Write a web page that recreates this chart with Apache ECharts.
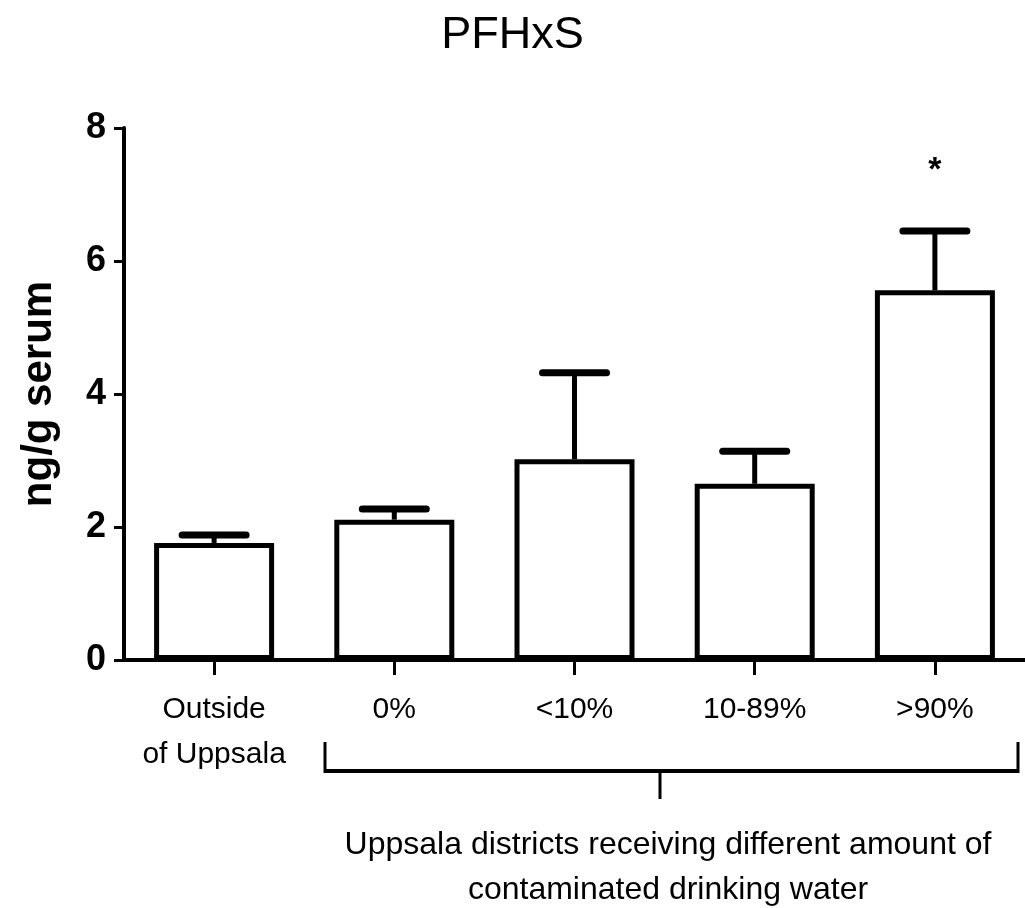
<!DOCTYPE html>
<html>
<head>
<meta charset="utf-8">
<script src="https://cdn.jsdelivr.net/npm/echarts@6/dist/echarts.min.js"></script>
<style>
  html, body { margin: 0; padding: 0; background: #fff; }
  #chart { width: 1025px; height: 908px; }
</style>
</head>
<body>
<div id="chart"></div>
<script>
// data
const categories = ['Outside\nof Uppsala', '0%', '<10%', '10-89%', '>90%']
const means = [1.76, 2.11, 3.02, 2.65, 5.56]
const errTops = [1.88, 2.27, 4.32, 3.14, 6.45]
const marks = ['', '', '', '', '*']
const yTicks = [0, 2, 4, 6, 8]

const sans = '"Liberation Sans", Arial, sans-serif'

const chart = echarts.init(document.getElementById('chart'))

const errData = categories.map((c, i) => [i, means[i], errTops[i]])

chart.setOption({
  animation: false,
  backgroundColor: '#fff',
  title: {
    text: 'PFHxS',
    left: 'center',
    top: 8,
    textStyle: { fontFamily: sans, fontSize: 45, fontWeight: 'normal', color: '#000' }
  },
  grid: { left: 124, right: 0, top: 128, bottom: 248 },
  xAxis: {
    type: 'category',
    data: categories,
    axisLine: { show: true, lineStyle: { color: '#000', width: 4 } },
    axisTick: { show: true, alignWithLabel: true, length: 15, lineStyle: { color: '#000', width: 3 } },
    axisLabel: {
      color: '#000', fontFamily: sans, fontSize: 30, lineHeight: 45, margin: 27, interval: 0
    },
    splitLine: { show: false }
  },
  yAxis: {
    type: 'value',
    min: yTicks[0],
    max: yTicks[yTicks.length - 1],
    interval: 2,
    name: 'ng/g serum',
    nameLocation: 'middle',
    nameRotate: 90,
    nameGap: 64,
    nameTextStyle: { fontFamily: sans, fontSize: 42, fontWeight: 'bold', color: '#000' },
    axisLine: { show: true, lineStyle: { color: '#000', width: 4 } },
    axisTick: { show: true, length: 10, lineStyle: { color: '#000', width: 3 } },
    axisLabel: { color: '#000', fontFamily: sans, fontSize: 36, fontWeight: 'bold', margin: 18 },
    splitLine: { show: false }
  },
  series: [
    {
      type: 'bar',
      data: means,
      barWidth: 120,
      itemStyle: { color: '#fff', borderColor: '#000', borderWidth: 5 },
      z: 3
    },
    {
      // upper error bars + significance mark
      type: 'custom',
      data: errData,
      z: 4,
      renderItem(params, api) {
        const i = api.value(0)
        const base = api.coord([i, api.value(1)])
        const top = api.coord([i, api.value(2)])
        const half = 32
        const children = [
          { type: 'line', shape: { x1: top[0], y1: base[1], x2: top[0], y2: top[1] }, style: { stroke: '#000', lineWidth: 5 } },
          { type: 'line', shape: { x1: top[0] - half, y1: top[1], x2: top[0] + half, y2: top[1] }, style: { stroke: '#000', lineWidth: 7, lineCap: 'round' } }
        ]
        const m = marks[i]
        if (m) {
          children.push({
            type: 'text',
            style: {
              text: m, x: top[0], y: top[1] - 60, align: 'center', verticalAlign: 'middle',
              font: 'bold 34px ' + sans, fill: '#000'
            }
          })
        }
        return { type: 'group', children: children }
      }
    }
  ],
  graphic: [
    // bracket under the Uppsala groups
    { type: 'line', shape: { x1: 325, y1: 771, x2: 1018, y2: 771 }, style: { stroke: '#000', lineWidth: 4 } },
    { type: 'line', shape: { x1: 325, y1: 742, x2: 325, y2: 773 }, style: { stroke: '#000', lineWidth: 3 } },
    { type: 'line', shape: { x1: 1018, y1: 742, x2: 1018, y2: 773 }, style: { stroke: '#000', lineWidth: 3 } },
    { type: 'line', shape: { x1: 660, y1: 769, x2: 660, y2: 799 }, style: { stroke: '#000', lineWidth: 3 } },
    {
      type: 'text',
      style: {
        text: 'Uppsala districts receiving different amount of\ncontaminated drinking water',
        x: 668, y: 823, align: 'center', verticalAlign: 'top',
        font: '32px ' + sans, lineHeight: 45, fill: '#000'
      }
    }
  ]
})
</script>
</body>
</html>
